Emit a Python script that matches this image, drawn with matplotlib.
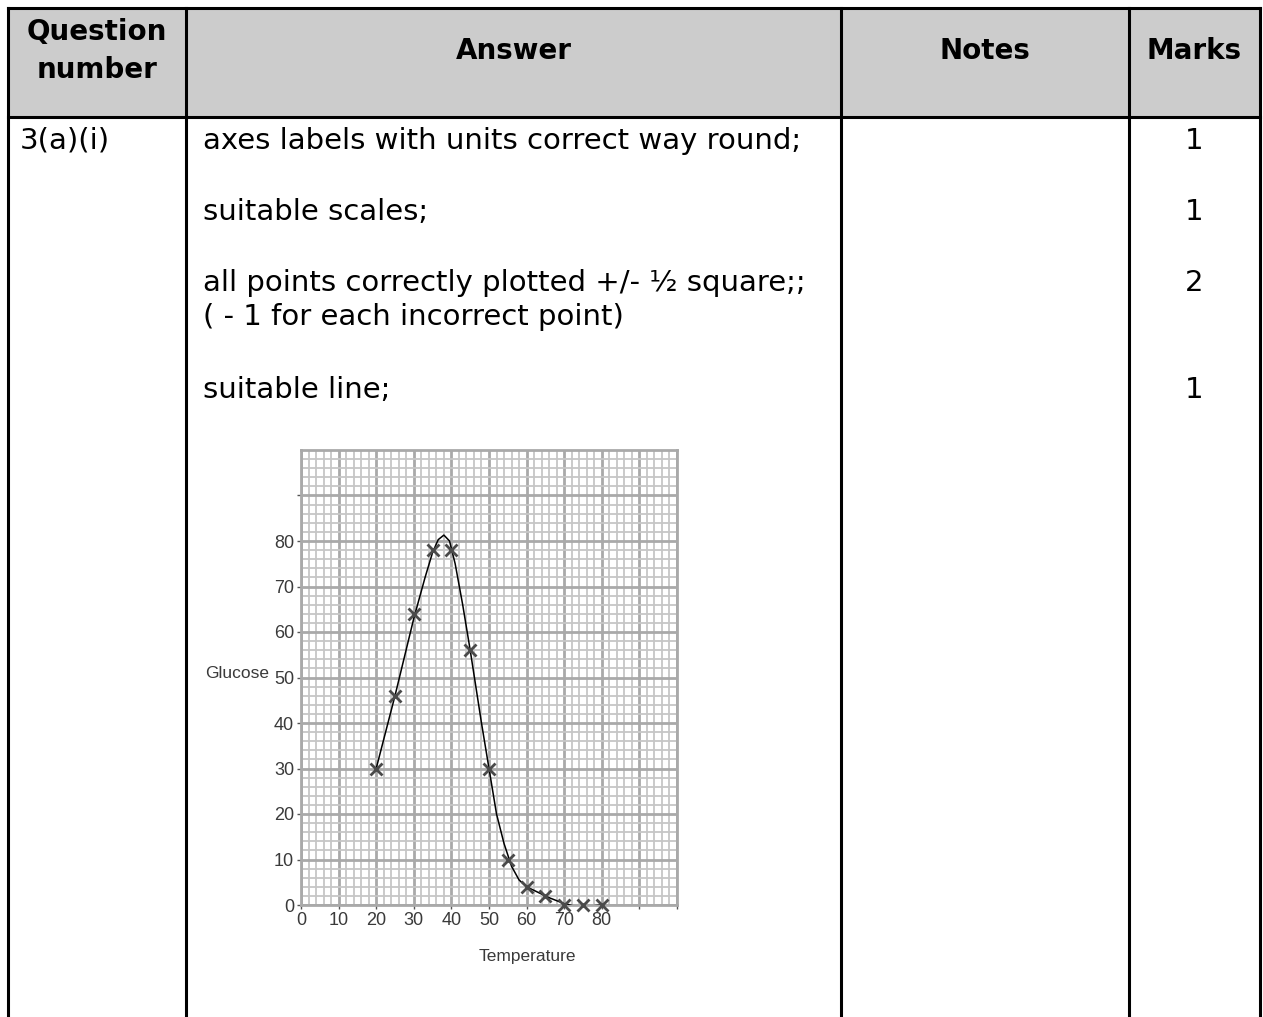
import numpy as np
import matplotlib
matplotlib.use('Agg')
import matplotlib.pyplot as plt
from matplotlib.patches import Rectangle

# data
temperature = [20, 25, 30, 35, 40, 45, 50, 55, 60, 65, 70, 75, 80]
glucose = [30, 46, 64, 78, 78, 56, 30, 10, 4, 2, 0, 0, 0]

# hand drawn best-fit line
curve_temp = [20, 25, 30, 33, 35, 36.5, 38, 39.5, 41, 43, 45, 48, 50, 52, 54, 56, 58, 60, 63, 66, 70, 73, 76, 80]
curve_glucose = [30, 46, 63, 72, 77.5, 80.3, 81.3, 80, 75, 66, 56, 40, 30, 20, 13.5, 8.5, 5.5, 4, 2.8, 1.6, 0.3, -0.3, -0.3, 0]

x_ticks = [0, 10, 20, 30, 40, 50, 60, 70, 80, 90, 100]
x_labels = ['0', '10', '20', '30', '40', '50', '60', '70', '80', '', '']
y_ticks = [0, 10, 20, 30, 40, 50, 60, 70, 80, 90]
y_labels = ['0', '10', '20', '30', '40', '50', '60', '70', '80', '']

headers = ['Answer', 'Notes', 'Marks']
question = '3(a)(i)'
answer_lines = ['axes labels with units correct way round;',
                'suitable scales;',
                'all points correctly plotted +/- \u00bd square;;',
                '( - 1 for each incorrect point)',
                'suitable line;']
marks = ['1', '1', '2', '', '1']

W, H = 1263, 1017
fig = plt.figure(figsize=(W / 100, H / 100), dpi=100)

# table drawn in pixel coordinates
tab = fig.add_axes([0, 0, 1, 1])
tab.set_xlim(0, W)
tab.set_ylim(H, 0)
tab.axis('off')

cols = [8, 186, 841, 1129, 1260]
top, head_bot = 8, 117
tab.add_patch(Rectangle((cols[0], top), cols[-1] - cols[0], head_bot - top,
                        facecolor='#cccccc', edgecolor='none', zorder=0))
lw = 2.2
for cx in cols:
    tab.plot([cx, cx], [top, H + 5], color='black', lw=lw, solid_capstyle='projecting')
for cy in [top, head_bot]:
    tab.plot([cols[0], cols[-1]], [cy, cy], color='black', lw=lw, solid_capstyle='projecting')

hfont = dict(family='DejaVu Sans', fontweight='bold', fontsize=20, ha='center', va='baseline')
tab.text((cols[0] + cols[1]) / 2, 40, 'Question', **hfont)
tab.text((cols[0] + cols[1]) / 2, 78, 'number', **hfont)
for i, h in enumerate(headers):
    tab.text((cols[i + 1] + cols[i + 2]) / 2, 59, h, **hfont)

bfont = dict(family='DejaVu Sans', fontsize=21, va='baseline')
tab.text(20, 149, question, ha='left', **bfont)
baselines = [149, 220, 291, 325, 398]
for yb, line, m in zip(baselines, answer_lines, marks):
    tab.text(203, yb, line, ha='left', **bfont)
    if m:
        tab.text(1194, yb, m, ha='center', **bfont)

# the pasted graph
ax = fig.add_axes([301 / W, 1 - 905 / H, 376 / W, 455 / H])
ax.set_xlim(0, 100)
ax.set_ylim(0, 100)
ax.set_xticks(x_ticks)
ax.set_xticklabels(x_labels)
ax.set_yticks(y_ticks)
ax.set_yticklabels(y_labels)
ax.set_xticks(np.arange(0, 101, 2), minor=True)
ax.set_yticks(np.arange(0, 101, 2), minor=True)
ax.grid(which='minor', color='#c6c6c6', lw=1.3)
ax.grid(which='major', color='#a9a9a9', lw=2.0)
ax.set_axisbelow(True)
for s in ax.spines.values():
    s.set_color('#a9a9a9')
    s.set_linewidth(2.0)
tick_font = 'Liberation Sans'
ax.tick_params(which='minor', length=0)
ax.tick_params(which='major', length=3, width=1, color='#555555', labelcolor='#3a3a3a',
               labelsize=13, pad=2)
for lab in ax.get_xticklabels() + ax.get_yticklabels():
    lab.set_family(tick_font)

ax.plot(curve_temp, curve_glucose, color='black', lw=1.1, zorder=3)
ax.plot(temperature, glucose, linestyle='none', marker='x', markersize=8,
        markeredgewidth=2, color='#4a4a4a', zorder=4, clip_on=False)

tab.text(237, 673, 'Glucose', family=tick_font, fontsize=12.5, color='#3a3a3a',
         ha='center', va='center')
tab.text(527, 957, 'Temperature', family=tick_font, fontsize=12.5, color='#3a3a3a',
         ha='center', va='center')

fig.savefig('out.png', dpi=100)
